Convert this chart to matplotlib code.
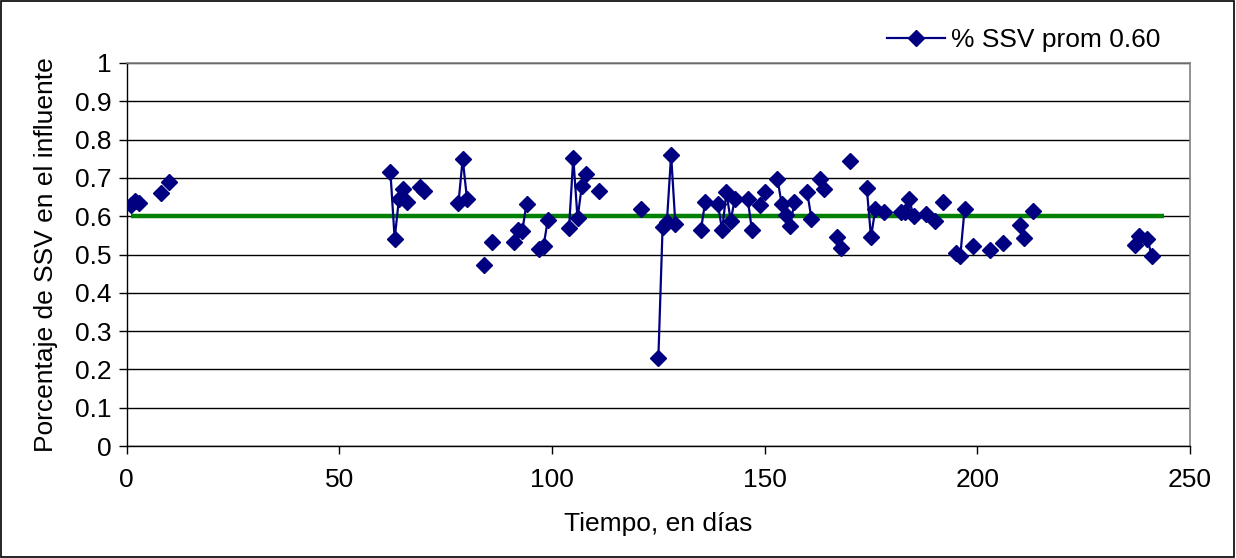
import matplotlib
matplotlib.use("Agg")
import matplotlib.pyplot as plt
import numpy as np
import pandas as pd
from matplotlib.patches import Rectangle

plt.rcParams['font.family'] = ['Liberation Sans', 'DejaVu Sans']

# Data (day, % SSV)
dias = [1, 2, 3, 8, 10,
        62, 63, 64, 65, 66, 69, 70,
        78, 79, 80, 84, 86, 91, 92, 93, 94, 97, 98, 99,
        104, 105, 106, 107, 108, 111,
        121, 125, 126, 127, 128, 129,
        135, 136, 139, 140, 141, 142, 143, 146, 147, 149, 150,
        153, 154, 155, 156, 157, 160, 161, 163, 164, 167, 168, 170,
        174, 175, 176, 178, 182, 183, 184, 185, 188, 190, 192,
        195, 196, 197, 199, 203, 206, 210, 211, 213,
        237, 238, 240, 241]
ssv = [0.630, 0.640, 0.635, 0.660, 0.690,
       0.716, 0.541, 0.644, 0.670, 0.637, 0.675, 0.667,
       0.634, 0.750, 0.646, 0.472, 0.532, 0.532, 0.564, 0.561, 0.633, 0.515, 0.522, 0.589,
       0.569, 0.753, 0.594, 0.679, 0.709, 0.666,
       0.618, 0.229, 0.572, 0.584, 0.760, 0.580,
       0.563, 0.637, 0.632, 0.563, 0.663, 0.588, 0.646, 0.646, 0.563, 0.628, 0.663,
       0.698, 0.631, 0.603, 0.575, 0.637, 0.663, 0.593, 0.696, 0.672, 0.545, 0.516, 0.744,
       0.674, 0.545, 0.618, 0.611, 0.611, 0.612, 0.644, 0.600, 0.606, 0.588, 0.636,
       0.503, 0.497, 0.619, 0.521, 0.513, 0.529, 0.576, 0.544, 0.613,
       0.524, 0.548, 0.541, 0.496]
promedio = 0.60
prom_dias = [1, 244]
serie_label = '% SSV prom 0.60'
xlabel = 'Tiempo, en días'
ylabel = 'Porcentaje de SSV en el influente'

# Daily series with gaps so only consecutive days are joined
s = pd.Series(ssv, index=dias).reindex(range(min(dias), max(dias) + 1))

W, H = 1236, 558
FS = 19
fig = plt.figure(figsize=(W / 100, H / 100), dpi=100)
ax = fig.add_axes([126.7 / W, 1 - 446 / H, (1190 - 126.7) / W, (446 - 63) / H])

ax.plot(prom_dias, [promedio, promedio], color='#008000', lw=3.2, zorder=2,
        solid_capstyle='butt')
line, = ax.plot(s.index, s.values, color='#000080', lw=1.6, marker='D',
                ms=8, mec='#000080', mfc='#000080', zorder=3, label=serie_label)

ax.set_xlim(0, 250)
ax.set_ylim(0, 1)
ax.set_xticks(np.arange(0, 251, 50))
yt = np.round(np.arange(0, 1.01, 0.1), 1)
ax.set_yticks(yt)
ax.set_yticklabels([f'{v:g}' for v in yt])
ax.yaxis.grid(True, color='black', lw=1.0, zorder=0)
ax.set_axisbelow(True)

for side in ['top', 'right']:
    ax.spines[side].set_color('#808080')
    ax.spines[side].set_linewidth(1.2)
for side in ['left', 'bottom']:
    ax.spines[side].set_color('#000000')
    ax.spines[side].set_linewidth(1.0)

ax.tick_params(axis='both', direction='out', length=6, width=1, color='black',
               labelsize=FS)
ax.tick_params(axis='x', pad=10)
ax.tick_params(axis='y', pad=5)
ax.set_xlabel(xlabel, fontsize=FS, labelpad=14)
ax.set_ylabel(ylabel, fontsize=FS, labelpad=12)

fig.legend(handles=[line], loc='center right',
           bbox_to_anchor=(1160 / W, 1 - 40 / H), frameon=False,
           fontsize=FS, handlelength=2.2, handletextpad=0.2,
           borderpad=0, borderaxespad=0)

fig.patches.append(Rectangle((0.0005, 0.001), 0.998, 0.997, transform=fig.transFigure,
                             fill=False, edgecolor='black', lw=1.2))

fig.savefig('out.png', dpi=100, facecolor='white')
